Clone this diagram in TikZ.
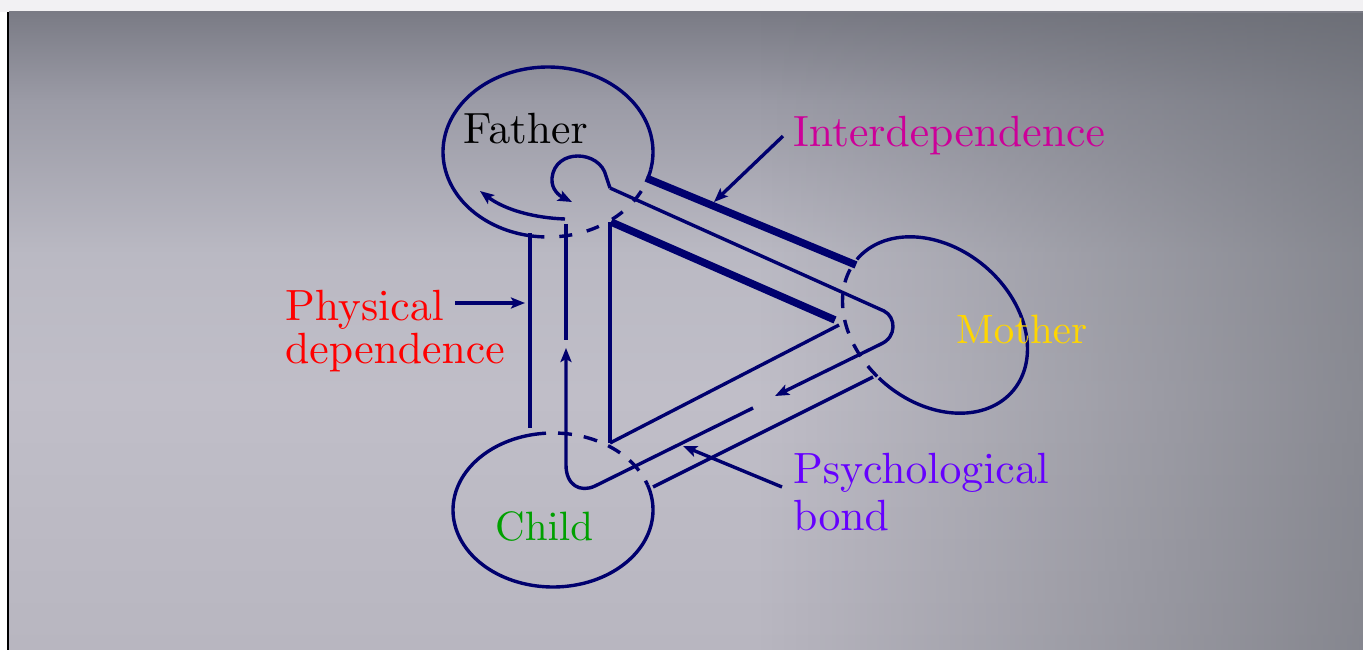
\documentclass[tikz,border=0pt]{standalone}
\usetikzlibrary{arrows.meta,fadings}
\definecolor{ink}{RGB}{0,0,110}
\definecolor{bg0}{RGB}{122,123,133}
\definecolor{bg1}{RGB}{155,155,166}
\definecolor{bg2}{RGB}{186,185,195}
\definecolor{bg3}{RGB}{192,190,200}
\definecolor{bg4}{RGB}{184,182,192}
\definecolor{bgdark}{RGB}{100,103,110}
\definecolor{strip}{RGB}{242,241,243}
\definecolor{cfather}{RGB}{0,0,0}
\definecolor{cmother}{RGB}{255,214,0}
\definecolor{cchild}{RGB}{0,160,0}
\definecolor{cinter}{RGB}{204,0,153}
\definecolor{cphys}{RGB}{255,0,0}
\definecolor{cpsy}{RGB}{102,0,255}
\pgfdeclareverticalshading{bgv}{100bp}{color(0bp)=(bg4); color(25bp)=(bg4); color(45bp)=(bg3); color(56bp)=(bg2); color(68bp)=(bg1); color(75bp)=(bg0); color(100bp)=(bg0)}
\tikzfading[name=fadeR, left color=transparent!100, right color=transparent!0]
\font\lbl=cmr10 at 43.7pt
\font\lbls=cmr10 at 41pt
\tikzset{
  ln/.style={draw=ink, line width=3.4pt},
  thk/.style={draw=ink, line width=7.5pt},
  dsh/.style={draw=ink, line width=3.4pt},
  arr/.style={draw=ink, line width=3.4pt, -{Stealth[length=14pt,width=11pt,inset=3pt]}},
  lab/.style={inner sep=0pt, anchor=base west, font=\lbl},
}
\begin{document}
\begin{tikzpicture}[x=1pt,y=-1pt]
\useasboundingbox (0,0) rectangle (1363,650);
% background
\fill[white] (0,0) rectangle (1363,650);
\fill[strip] (0,0) rectangle (1363,12);
\begin{scope}
\clip (9,12) rectangle (1363,650);
\shade[shading=bgv] (9,12) rectangle (1363,650);
\fill[bgdark, opacity=0.6, path fading=fadeR] (760,12) rectangle (1363,650);
\end{scope}
\draw[black, line width=2pt] (7.7,12) -- (7.7,650);

% Father ellipse
\draw[ln] plot[domain=-268:12, samples=120, variable=\t] ({548+105*cos(\t)}, {152+85*sin(\t)});
\draw[dsh, dash pattern=on 13pt off 15pt, dash phase=13pt] plot[domain=92:12, samples=60, variable=\t] ({548+105*cos(\t)}, {152+85*sin(\t)});
% Mother ellipse
\draw[ln] plot[domain=180:455, samples=140, variable=\t] ({935+78.13*cos(\t)-49.49*sin(\t)}, {325+65.57*cos(\t)+58.99*sin(\t)});
\draw[dsh, dash pattern=on 14pt off 12pt, dash phase=14pt] plot[domain=180:95, samples=60, variable=\t] ({935+78.13*cos(\t)-49.49*sin(\t)}, {325+65.57*cos(\t)+58.99*sin(\t)});
% Child ellipse
\draw[ln] plot[domain=-19:266, samples=140, variable=\t] ({553+100*cos(\t)}, {510+77*sin(\t)});
\draw[dsh, dash pattern=on 14pt off 12pt, dash phase=14pt] plot[domain=266:341, samples=60, variable=\t] ({553+100*cos(\t)}, {510+77*sin(\t)});

% outer band
\draw[ln] (530,233) -- (530,428);
\draw[thk] (646,178) -- (856,265);
\draw[ln] (873,377) -- (653,487);

% middle band
\draw[arr] (565,219) .. controls (535,218) and (505,210) .. (480,191);
\draw[ln] (566,224) -- (566,340);
\draw[arr] (753,408) -- (595,486) .. controls (580,493) and (566,485) .. (566,465) -- (566,348);
\draw[arr] (610,188) -- (884,311) .. controls (896,317) and (897,337) .. (881,344) -- (775,396);
\draw[arr] (610,188) -- (606,176) .. controls (600,150) and (555,148) .. (552,178) .. controls (551,190) and (560,196) .. (572,202);

% inner triangle
\draw[ln] (610,222) -- (610,443);
\draw[ln] (610,443) -- (839,325);
\draw[thk] (611,222) -- (835,320);

% labels
\node[lab, text=cfather] (father) at (463,143) {Father};
\node[lab, text=cmother, font=\lbls] (mother) at (956,343) {Mother};
\node[lab, text=cchild, font=\lbls] (child) at (495,540) {Child};
\node[lab, text=cinter] (inter) at (793,147) {Interdependence};
\node[lab, text=cphys] (phys1) at (285,320) {Physical};
\node[lab, text=cphys] (phys2) at (285,363) {dependence};
\node[lab, text=cpsy] (psy1) at (793,483) {Psychological};
\node[lab, text=cpsy] (psy2) at (793,530) {bond};

\coordinate (interT) at (714,202);
\coordinate (physT) at (525,303);
\coordinate (psyT) at (683,446);

\draw[arr] ([xshift=-10pt]inter.west) -- (interT);
\draw[arr] (phys1.east |- physT) ++(11pt,0) -- (physT);
\draw[arr] ([xshift=-11pt,yshift=-4pt]psy1.base west) -- (psyT);
\end{tikzpicture}
\end{document}
